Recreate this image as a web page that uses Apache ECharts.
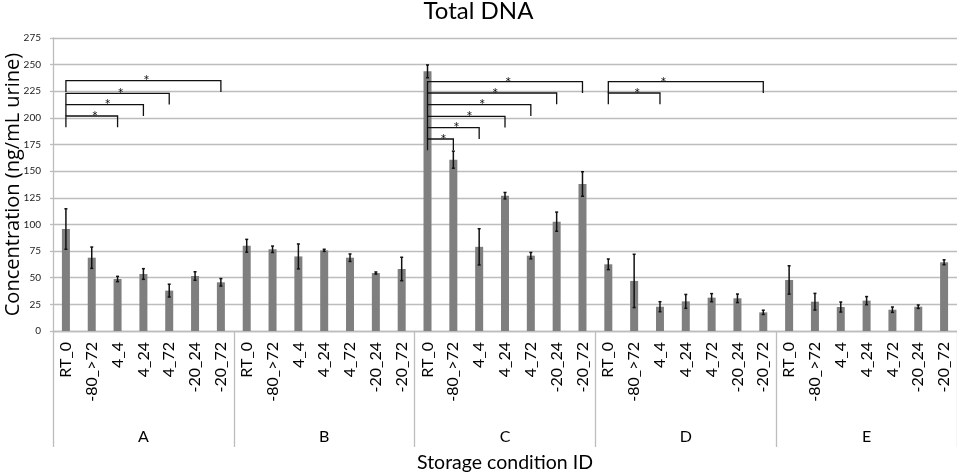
<!DOCTYPE html>
<html>
<head>
<meta charset="utf-8">
<script src="https://cdn.jsdelivr.net/npm/echarts@6/dist/echarts.min.js"></script>
<style>
  html, body { margin: 0; padding: 0; background: #fff; }
  #chart { width: 957px; height: 473px; }
</style>
</head>
<body>
<div id="chart"></div>
<script>
'use strict'

const conditions = ['RT_0', '-80_>72', '4_4', '4_24', '4_72', '-20_24', '-20_72']
const groups = ['A', 'B', 'C', 'D', 'E']
const yTicks = { min: 0, max: 275, interval: 25 }

// mean concentration per storage condition, one array per sample
const meanA = [95.7, 68.8, 48.8, 53.5, 37.9, 51.6, 45.7]
const meanB = [80.0, 76.7, 70.0, 75.7, 68.8, 54.4, 58.2]
const meanC = [243.7, 160.8, 79.0, 127.0, 70.7, 102.6, 138.0]
const meanD = [62.6, 47.0, 22.8, 27.8, 31.3, 30.7, 17.5]
const meanE = [47.9, 27.5, 22.5, 28.5, 20.0, 22.8, 64.5]

// error (+/-)
const errA = [19, 10, 2.5, 5, 6, 4, 3.5]
const errB = [6, 3, 11.7, 1, 3.5, 1, 11]
const errC = [6, 8, 17, 3, 3, 9, 11.5]
const errD = [5, 25, 4.7, 6.5, 3.8, 4, 2]
const errE = [13.3, 7.8, 4.7, 3.8, 2.5, 1.6, 2.3]

// significance brackets: [from, to, height, asterisk position] (indices inside group)
const bracketsA = [[0, 2, 201.8, 1.12], [0, 3, 212.5, 1.62], [0, 4, 223.1, 2.12], [0, 6, 235, 3.12]]
const bracketsC = [[0, 1, 180.2, 0.62], [0, 2, 190.9, 1.12], [0, 3, 201.5, 1.62], [0, 4, 212.5, 2.12], [0, 5, 223.4, 2.62], [0, 6, 234, 3.12]]
const bracketsD = [[0, 2, 223.4, 1.12], [0, 6, 234, 2.13]]
const legDrop = 10.6

const FONT = 'Lato, "Open Sans", sans-serif'
const GRID_COLOR = '#bdbdbd'

const labels = groups.flatMap(() => conditions)
const means = [meanA, meanB, meanC, meanD, meanE].flat()
const errs = [errA, errB, errC, errD, errE].flat()
const errData = means.map((m, i) => [i, m - errs[i], m + errs[i]])

const brackets = []
;[[0, bracketsA], [2, bracketsC], [3, bracketsD]].forEach(([g, list]) => {
  list.forEach(([a, b, y, s]) => brackets.push([a + g * 7, b + g * 7, y, s + g * 7]))
})

const chart = echarts.init(document.getElementById('chart'))

const option = {
  animation: false,
  title: {
    text: 'Total DNA',
    left: 'center',
    top: -1,
    padding: 0,
    textStyle: { fontFamily: FONT, fontSize: 24, fontWeight: 'normal', color: '#000' }
  },
  grid: { left: 53, right: 0, top: 38, bottom: 142, containLabel: false, outerBoundsMode: 'none' },
  xAxis: [{
    type: 'category',
    data: labels,
    axisLine: { lineStyle: { color: GRID_COLOR, width: 1.3 } },
    axisTick: { show: false },
    axisLabel: {
      interval: 0,
      rotate: 90,
      margin: 11,
      fontFamily: FONT,
      fontSize: 16,
      color: '#000'
    }
  }, {
    type: 'category',
    data: groups,
    position: 'bottom',
    axisLine: { show: false },
    axisTick: { show: true, interval: 0, length: 116, lineStyle: { color: GRID_COLOR, width: 1.3 } },
    axisLabel: { interval: 0, margin: 98, fontFamily: FONT, fontSize: 16, color: '#000' },
    name: 'Storage condition ID',
    nameLocation: 'middle',
    nameGap: 122,
    nameMoveOverlap: false,
    nameTextStyle: { fontFamily: FONT, fontSize: 19.5, color: '#000' }
  }],
  yAxis: {
    type: 'value',
    ...yTicks,
    name: 'Concentration (ng/mL urine)',
    nameLocation: 'middle',
    nameGap: 30,
    nameMoveOverlap: false,
    nameTextStyle: { fontFamily: '"Open Sans", sans-serif', fontSize: 20, color: '#000' },
    axisLine: { show: true, lineStyle: { color: GRID_COLOR, width: 1.3 } },
    axisTick: { show: true, length: 3, lineStyle: { color: GRID_COLOR, width: 1.3 } },
    axisLabel: { margin: 12, fontFamily: FONT, fontSize: 10, color: '#222' },
    splitLine: { lineStyle: { color: GRID_COLOR, width: 1.3 } }
  },
  series: [{
    type: 'bar',
    data: means,
    barWidth: 8,
    itemStyle: { color: '#7f7f7f' }
  }, {
    type: 'custom',
    data: errData,
    z: 3,
    renderItem (params, api) {
      const top = api.coord([api.value(0), api.value(2)])
      const bot = api.coord([api.value(0), api.value(1)])
      const c = 1.5
      const style = { stroke: '#111', lineWidth: 1.5 }
      return {
        type: 'group',
        children: [
          { type: 'line', shape: { x1: top[0], y1: top[1], x2: bot[0], y2: bot[1] }, style },
          { type: 'line', shape: { x1: top[0] - c, y1: top[1], x2: top[0] + c, y2: top[1] }, style },
          { type: 'line', shape: { x1: bot[0] - c, y1: bot[1], x2: bot[0] + c, y2: bot[1] }, style }
        ]
      }
    }
  }, {
    type: 'custom',
    data: brackets,
    z: 4,
    renderItem (params, api) {
      const y = api.value(2)
      const a = api.coord([api.value(0), y])
      const b = api.coord([api.value(1), y])
      const drop = api.coord([api.value(0), y - legDrop])[1] - a[1]
      const s = api.value(3)
      const si = Math.floor(s)
      const band = api.size([1, 0])[0]
      const sx = api.coord([si, y])[0] + (s - si) * band
      return {
        type: 'group',
        children: [{
          type: 'polyline',
          shape: { points: [[a[0], a[1] + drop], [a[0], a[1]], [b[0], b[1]], [b[0], b[1] + drop]] },
          style: { stroke: '#111', lineWidth: 1.3, fill: null }
        }, {
          type: 'text',
          style: {
            text: '*',
            x: sx,
            y: a[1] + 1,
            align: 'center',
            verticalAlign: 'middle',
            font: '15px ' + FONT,
            fill: '#111'
          }
        }]
      }
    }
  }]
}

chart.setOption(option)
</script>
</body>
</html>
